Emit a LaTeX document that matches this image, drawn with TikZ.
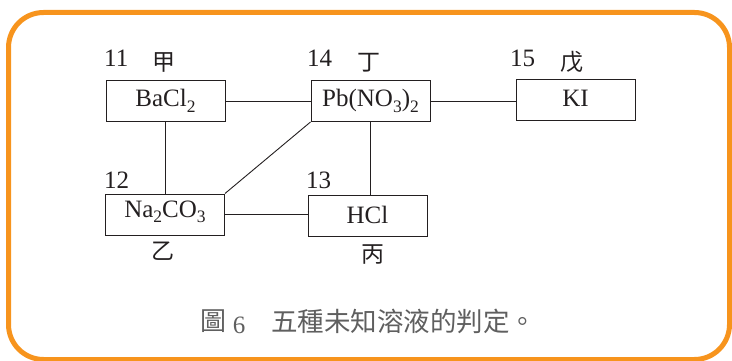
\documentclass[tikz,border=0pt]{standalone}
\usepackage{fontspec}
\setmainfont{Liberation Serif}
\newfontfamily\cjk{Noto Sans CJK TC}
\definecolor{frameorange}{RGB}{247,148,29}
\definecolor{ink}{RGB}{35,31,32}
\definecolor{capgray}{RGB}{95,95,95}
\newcommand{\chsub}[1]{\raisebox{-5.5pt}{\fontsize{17.5}{20}\selectfont #1}}
\begin{document}
\begin{tikzpicture}[x=1pt,y=-1pt,
  chem/.style={draw=ink,line width=1pt,minimum width=119pt,minimum height=41pt,inner sep=0pt,font=\fontsize{25}{28}\selectfont,text=ink,text height=18pt,text depth=6.6pt},
  num/.style={anchor=base west,inner sep=0pt,font=\fontsize{25}{28}\selectfont,text=ink},
  han/.style={inner sep=0pt,font=\cjk\fontsize{23}{26}\selectfont,text=ink},
  link/.style={draw=ink,line width=0.9pt},
  captext/.style={inner sep=0pt,text=capgray}]
\useasboundingbox (0,0) rectangle (732,361);
\draw[frameorange,line width=5pt,rounded corners=35pt] (8.5,12.5) rectangle (729.5,359.5);
% boxes
\node[chem] (ba) at (165.5,101) {BaCl\chsub{2}};
\node[chem] (pb) at (370.5,101) {Pb(NO\chsub{3})\chsub{2}};
\node[chem] (ki) at (575.5,100.5) {KI};
\node[chem,text depth=12pt] (na) at (165,214.5) {Na\chsub{2}CO\chsub{3}};
\node[chem,text depth=2.4pt] (hcl) at (367.5,215.5) {HCl};
% numbers
\node[num] (n11) at (104,67) {11};
\node[num] (n14) at (307,67) {14};
\node[num] (n15) at (510,67) {15};
\node[num] (n12) at (104,188) {12};
\node[num] (n13) at (306,188) {13};
% han labels
\node[han] (jia) at (164,62.5) {甲};
\node[han] (ding) at (369,62.5) {丁};
\node[han] (wu) at (571.5,62.5) {戊};
\node[han] (yi) at (163,251.5) {乙};
\node[han] (bing) at (372.5,255) {丙};
% connectors
\draw[link] (ba.east) -- (pb.west);
\draw[link] (pb.east) -- (ki.west |- pb.east);
\draw[link] (ba.south) -- (ba.south |- na.north);
\draw[link] (pb.south west) -- (na.north east);
\draw[link] (pb.south) -- (pb.south |- hcl.north);
\draw[link] (na.east) -- (hcl.west |- na.east);
% caption
\node[captext,font=\cjk\fontsize{26}{30}\selectfont] (tu) at (213.5,321) {圖};
\node[captext,font=\fontsize{25}{28}\selectfont,anchor=base] (six) at (239,333) {6};
\node[captext,font=\cjk\fontsize{26.5}{30}\selectfont,anchor=west] (captxt) at (271,321) {五種未知溶液的判定。};
\end{tikzpicture}
\end{document}
